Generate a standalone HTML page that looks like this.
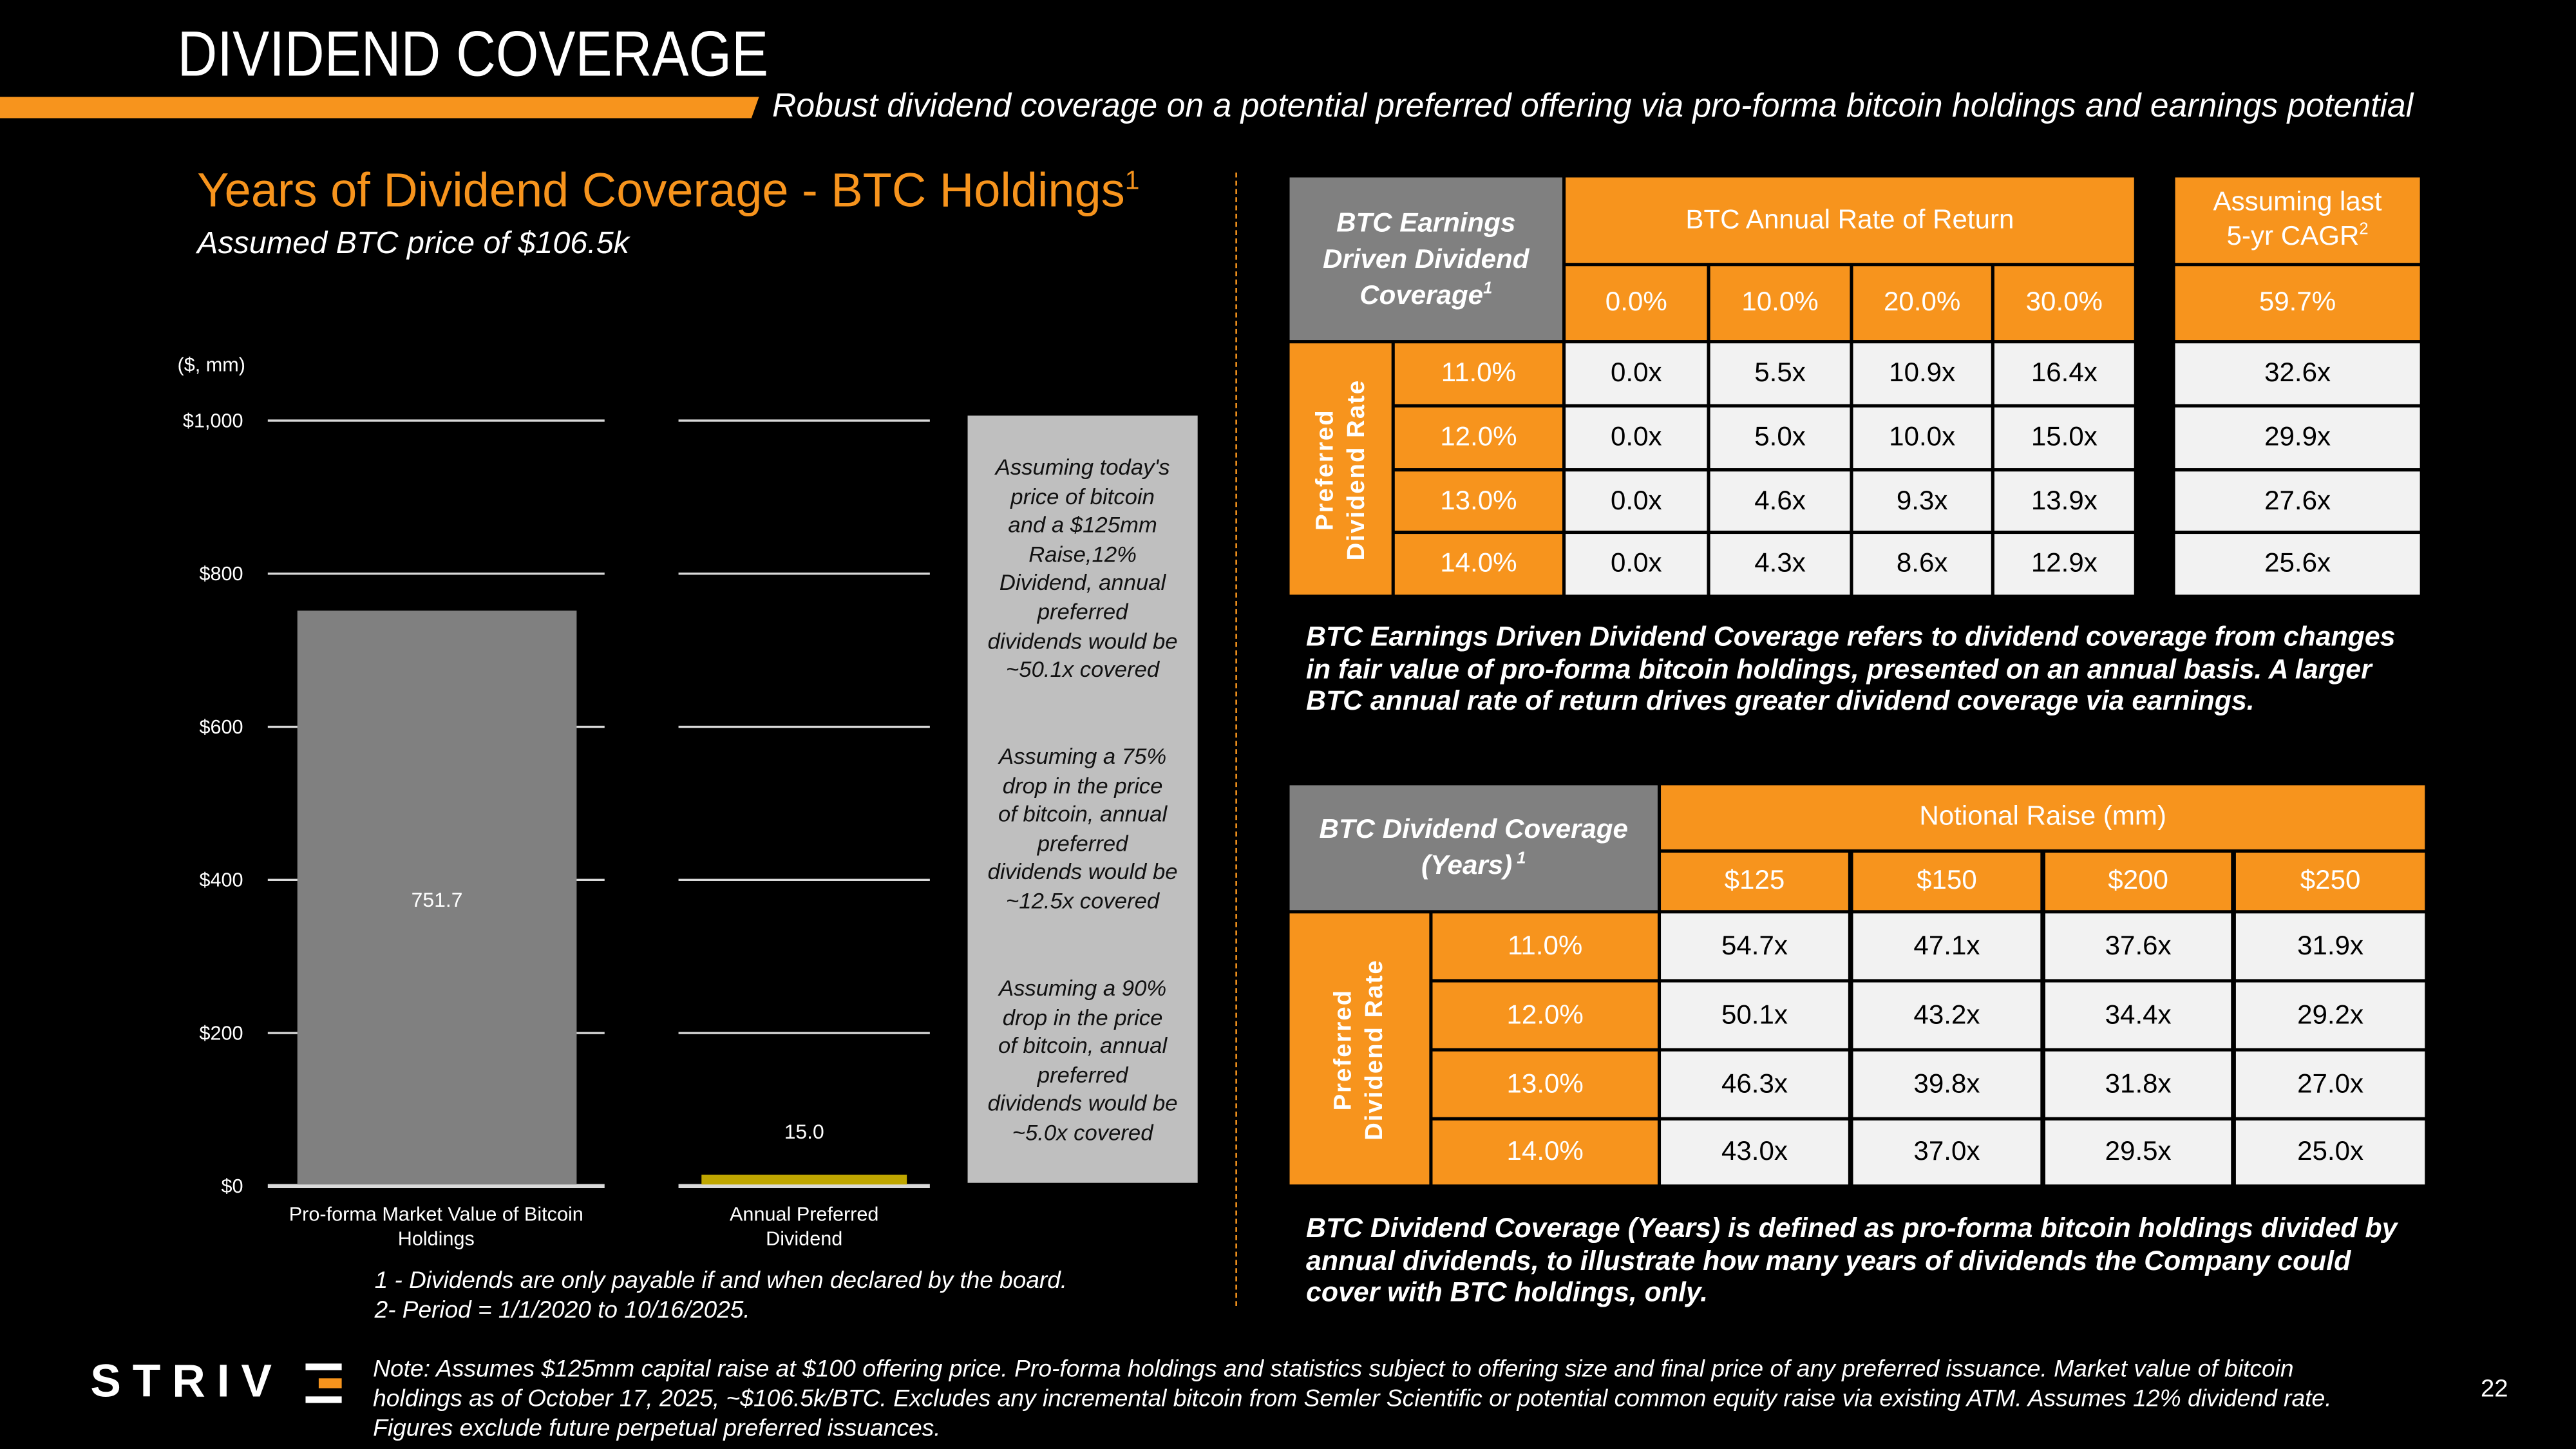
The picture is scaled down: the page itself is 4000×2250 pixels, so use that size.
<!DOCTYPE html>
<html><head><meta charset="utf-8">
<style>
html,body{margin:0;padding:0;background:#000;}
body{width:4000px;height:2250px;overflow:hidden;position:relative;}
#wrap{position:absolute;left:0;top:0;width:1568px;height:882px;transform:scale(2.5510);transform-origin:0 0;background:#000;font-family:"Liberation Sans",sans-serif;color:#fff;}
.a{position:absolute;white-space:nowrap;}
.cell{position:absolute;display:flex;align-items:center;justify-content:center;text-align:center;box-sizing:border-box;}
.cell>span{display:inline-block;}
.or{background:#f7941d;color:#fff;font-size:16.5px;}
.gy{background:#808080;color:#fff;font-style:italic;font-weight:bold;font-size:16.5px;line-height:22px;}
.gy sup{line-height:0;}
.wh{background:#f2f2f2;color:#000;font-size:16.5px;}
.it{font-style:italic;}
</style></head><body>
<div id="wrap">
<div class="a" style="left:108px;top:12px;font-size:39px;line-height:44px;transform:scaleX(0.86);transform-origin:0 0;">DIVIDEND COVERAGE</div>
<div class="a" style="left:0;top:59px;width:462px;height:13px;background:#f7941d;clip-path:polygon(0 0,100% 0,99% 100%,0 100%);"></div>
<div class="a it" style="left:470px;top:53px;font-size:20.3px;line-height:24px;">Robust dividend coverage on a potential preferred offering via pro-forma bitcoin holdings and earnings potential</div>
<div class="a" style="left:120px;top:94px;font-size:29px;line-height:34px;color:#f7941d;">Years of Dividend Coverage - BTC Holdings<sup style="font-size:16px;">1</sup></div>
<div class="a it" style="left:120px;top:137px;font-size:19px;line-height:24px;">Assumed BTC price of $106.5k</div>

<svg id="chart" style="position:absolute;left:0;top:0;" width="760" height="800"></svg>

<div class="a it" style="left:589px;top:253px;width:140px;height:467px;background:#bfbfbf;color:#111;font-size:13.6px;line-height:17.6px;white-space:nowrap;text-align:center;">
<div style="position:absolute;top:23px;left:0;width:140px;">Assuming today's<br>price of bitcoin<br>and a $125mm<br>Raise,12%<br>Dividend, annual<br>preferred<br>dividends would be<br>~50.1x covered</div>
<div style="position:absolute;top:199px;left:0;width:140px;">Assuming a 75%<br>drop in the price<br>of bitcoin, annual<br>preferred<br>dividends would be<br>~12.5x covered</div>
<div style="position:absolute;top:340px;left:0;width:140px;">Assuming a 90%<br>drop in the price<br>of bitcoin, annual<br>preferred<br>dividends would be<br>~5.0x covered</div>
</div>
<div class="a" style="left:752px;top:105px;height:690px;border-left:1.2px dashed #f7941d;"></div>

<div id="t1"></div>
<div id="t2"></div>

<div class="a it" style="left:795px;top:378px;font-size:16.8px;line-height:19.7px;font-weight:bold;white-space:normal;width:668px;">BTC Earnings Driven Dividend Coverage refers to dividend coverage from changes in fair value of pro-forma bitcoin holdings, presented on an annual basis. A larger BTC annual rate of return drives greater dividend coverage via earnings.</div>
<div class="a it" style="left:795px;top:738px;font-size:16.8px;line-height:19.7px;font-weight:bold;white-space:normal;width:668px;">BTC Dividend Coverage (Years) is defined as pro-forma bitcoin holdings divided by annual dividends, to illustrate how many years of dividends the Company could cover with BTC holdings, only.</div>

<div class="a it" style="left:228px;top:771px;font-size:14.5px;line-height:18px;">1 - Dividends are only payable if and when declared by the board.<br>2- Period = 1/1/2020 to 10/16/2025.</div>

<div class="a" style="left:55px;top:829px;width:155px;height:26px;">
<span style="position:absolute;left:0;top:-3px;font-family:'Liberation Sans',sans-serif;font-weight:bold;font-size:28px;letter-spacing:7px;line-height:30px;">STRIV</span>
<div style="position:absolute;left:131px;top:1px;width:22px;height:4px;background:#fff;"></div>
<div style="position:absolute;left:139px;top:10px;width:14px;height:6px;background:#f7941d;"></div>
<div style="position:absolute;left:131px;top:21px;width:22px;height:4px;background:#fff;"></div>
</div>
<div class="a it" style="left:227px;top:825px;font-size:14.6px;line-height:18px;white-space:normal;width:1226px;">Note: Assumes $125mm capital raise at $100 offering price. Pro-forma holdings and statistics subject to offering size and final price of any preferred issuance. Market value of bitcoin holdings as of October 17, 2025, ~$106.5k/BTC. Excludes any incremental bitcoin from Semler Scientific or potential common equity raise via existing ATM. Assumes 12% dividend rate. Figures exclude future perpetual preferred issuances.</div>
<div class="a" style="left:1510px;top:837px;font-size:15px;">22</div>
</div>

<script>
// ---- chart data ----
const categories = ["Pro-forma Market Value of Bitcoin|Holdings", "Annual Preferred|Dividend"];
const values = [751.7, 15.0];
const valueLabels = ["751.7", "15.0"];
const tickValues = [0, 200, 400, 600, 800, 1000];
const tickLabels = ["$0", "$200", "$400", "$600", "$800", "$1,000"];
const barColors = ["#808080", "#bfa600"];

const NS = "http://www.w3.org/2000/svg";
const svg = document.getElementById("chart");
const y0 = 722, y1 = 256;
function yScale(v){ return y0 - (v / 1000) * (y0 - y1); }
const groups = [{gx0:163,gx1:368,bx0:181,bx1:351},{gx0:413,gx1:566,bx0:427,bx1:552}];
function mk(tag, attrs){ const e = document.createElementNS(NS, tag); for (const k in attrs) e.setAttribute(k, attrs[k]); svg.appendChild(e); return e; }

const unit = mk("text", {x:108, y:226, fill:"#fff", "font-size":"12", "font-family":"Liberation Sans, sans-serif"});
unit.textContent = "($, mm)";



tickValues.forEach((tv, i) => {
  const y = yScale(tv);
  const t = mk("text", {x:148, y:y+4, fill:"#fff", "font-size":"12", "text-anchor":"end", "font-family":"Liberation Sans, sans-serif"});
  t.textContent = tickLabels[i];
  
  
  groups.forEach(g => {
    const l = mk("line", {x1:g.gx0, x2:g.gx1, y1:y, y2:y, stroke:"#d9d9d9", "stroke-width": tv === 0 ? 2.5 : 1.3});
    
    
  });
});

values.forEach((v, i) => {
  const g = groups[i];
  const yt = yScale(v);
  const r = mk("rect", {x:g.bx0, y:yt, width:g.bx1-g.bx0, height:y0-yt-1, fill:barColors[i]});
  
  
  const cx = (g.gx0 + g.gx1) / 2;
  const ly = i === 0 ? (yt + y0) / 2 + 5 : yt - 22;
  const lb = mk("text", {x: i === 0 ? 266 : cx, y:ly, fill:"#fff", "font-size":"12.5", "text-anchor":"middle", "font-family":"Liberation Sans, sans-serif"});
  lb.textContent = valueLabels[i];
  
  
  categories[i].split("|").forEach((line, j) => {
    const c = mk("text", {x:cx, y:743 + j*15, fill:"#fff", "font-size":"12", "text-anchor":"middle", "font-family":"Liberation Sans, sans-serif"});
    c.textContent = line;
    
    
  });
});

// ---- tables ----
const wrap = document.getElementById("wrap");
function cell(cls, x0, y0c, x1, y1c, html, name){
  const d = document.createElement("div");
  d.className = "cell " + cls;
  d.style.left = x0 + "px"; d.style.top = y0c + "px";
  d.style.width = (x1 - x0) + "px"; d.style.height = (y1c - y0c) + "px";
  d.innerHTML = "<span>" + html + "</span>";
  
  
  wrap.appendChild(d);
  return d;
}
const rates = ["11.0%", "12.0%", "13.0%", "14.0%"];
// table 1
const t1Cols = [[953,1039],[1041,1126],[1128,1212],[1214,1299]];
const t1Heads = ["0.0%", "10.0%", "20.0%", "30.0%"];
const t1Rows = [[209,246],[248,285],[287,323],[325,362]];
const t1Data = [["0.0x","5.5x","10.9x","16.4x"],["0.0x","5.0x","10.0x","15.0x"],["0.0x","4.6x","9.3x","13.9x"],["0.0x","4.3x","8.6x","12.9x"]];
const t1Cagr = ["32.6x","29.9x","27.6x","25.6x"];
cell("gy", 785, 108, 951, 207, "BTC Earnings<br>Driven Dividend<br>Coverage<sup style='font-size:10px'>1</sup>", "table1-corner-header");
cell("or", 953, 108, 1299, 160, "BTC Annual Rate of Return", "return-rate-header");
cell("or", 1324, 108, 1473, 160, "<span style='line-height:21px;display:inline-block'>Assuming last<br>5-yr CAGR<sup style='font-size:10px;line-height:0'>2</sup></span>", "cagr-header");
cell("or", 1324, 162, 1473, 207, "59.7%", "cagr-rate");
t1Heads.forEach((h, i) => cell("or", t1Cols[i][0], 162, t1Cols[i][1], 207, h, "return-rate-column-header"));
cell("or", 785, 209, 847, 362, "<div style='transform:rotate(-90deg);white-space:nowrap;font-family:Liberation Sans,sans-serif;font-weight:bold;font-size:15px;line-height:19px;letter-spacing:0.8px'>Preferred<br>Dividend Rate</div>", "dividend-rate-axis-label");
t1Rows.forEach((r, ri) => {
  cell("or", 849, r[0], 951, r[1], rates[ri], "dividend-rate-row-header");
  t1Cols.forEach((c, ci) => cell("wh", c[0], r[0], c[1], r[1], t1Data[ri][ci], "coverage-cell"));
  cell("wh", 1324, r[0], 1473, r[1], t1Cagr[ri], "cagr-coverage-cell");
});
// table 2
const t2Cols = [[1011,1125],[1128,1242],[1245,1358],[1361,1476]];
const t2Heads = ["$125", "$150", "$200", "$250"];
const t2Rows = [[556,596],[598,638],[640,680],[682,721]];
const t2Data = [["54.7x","47.1x","37.6x","31.9x"],["50.1x","43.2x","34.4x","29.2x"],["46.3x","39.8x","31.8x","27.0x"],["43.0x","37.0x","29.5x","25.0x"]];
cell("gy", 785, 478, 1009, 554, "BTC Dividend Coverage<br>(Years)<sup style='font-size:10px'>&nbsp;1</sup>", "table2-corner-header");
cell("or", 1011, 478, 1476, 517, "Notional Raise (mm)", "notional-raise-header");
t2Heads.forEach((h, i) => cell("or", t2Cols[i][0], 519, t2Cols[i][1], 554, h, "raise-column-header"));
cell("or", 785, 556, 870, 721, "<div style='transform:rotate(-90deg);white-space:nowrap;font-family:Liberation Sans,sans-serif;font-weight:bold;font-size:15px;line-height:19px;letter-spacing:0.8px'>Preferred<br>Dividend Rate</div>", "dividend-rate-axis-label-2");
t2Rows.forEach((r, ri) => {
  cell("or", 872, r[0], 1009, r[1], rates[ri], "dividend-rate-row-header");
  t2Cols.forEach((c, ci) => cell("wh", c[0], r[0], c[1], r[1], t2Data[ri][ci], "years-coverage-cell"));
});
</script>
</body></html>
